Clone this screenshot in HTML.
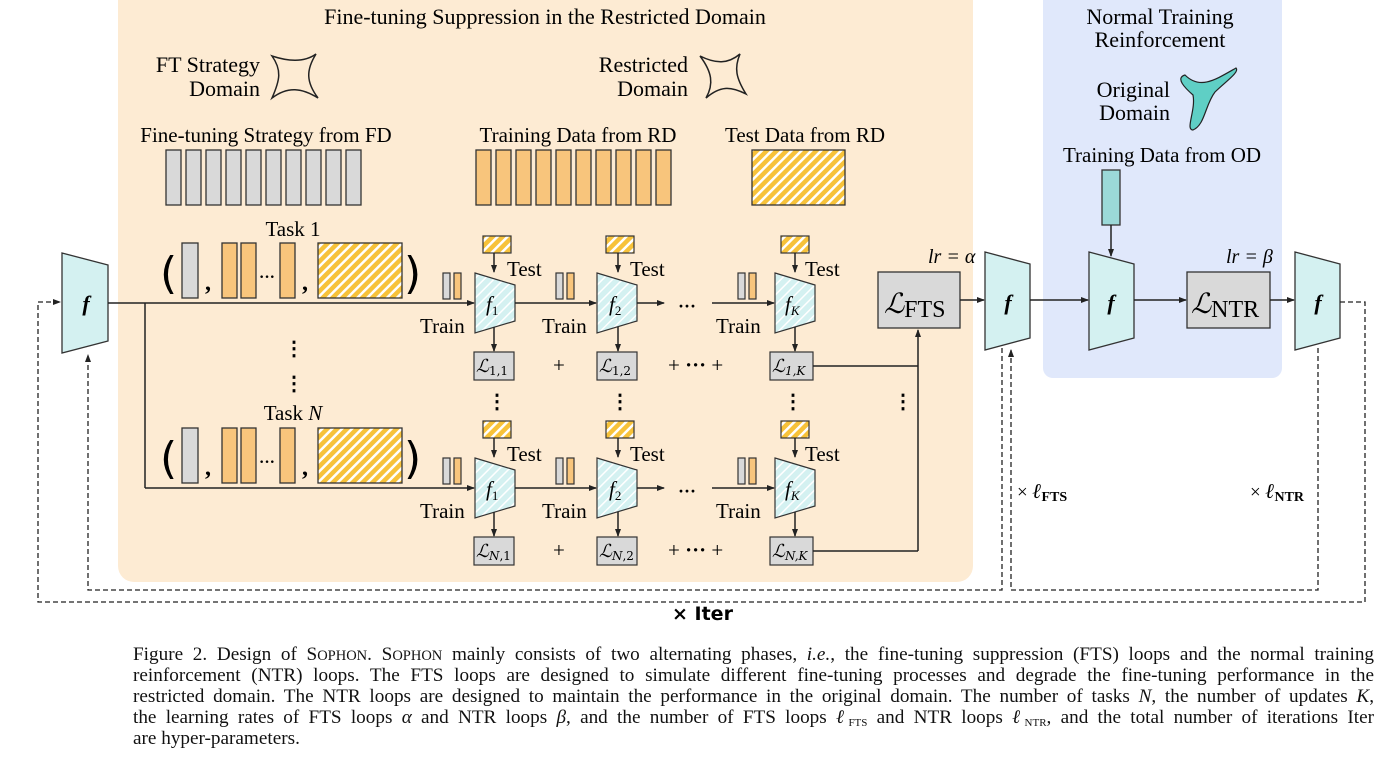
<!DOCTYPE html>
<html><head><meta charset="utf-8"><style>
body{margin:0;background:#fff;width:1380px;height:761px;overflow:hidden}
.cap{position:absolute;left:133px;width:1241px;top:644px;font-family:"Liberation Serif",serif;font-size:19.2px;line-height:21px;color:#111}
.cap div{text-align:justify;text-align-last:justify;white-space:nowrap;height:21px}
.cap div.l{text-align-last:left}
.cap sub{font-size:11px;line-height:0;vertical-align:-3px}
</style></head><body>
<svg width="1380" height="640" style="position:absolute;left:0;top:0" font-family="Liberation Serif, serif">
<defs>
<pattern id="h" width="7" height="7" patternUnits="userSpaceOnUse" patternTransform="rotate(45)"><rect width="7" height="7" fill="#f7c23a"/><rect width="2.5" height="7" fill="#fff"/></pattern>
<pattern id="c" width="7" height="7" patternUnits="userSpaceOnUse" patternTransform="rotate(45)"><rect width="7" height="7" fill="#d4f1f1"/><rect width="1.5" height="7" fill="#fff"/></pattern>
<marker id="a" markerWidth="8" markerHeight="8" refX="7" refY="4" orient="auto" markerUnits="userSpaceOnUse"><path d="M0,1 L8,4 L0,7z" fill="#222"/></marker>
</defs>
<rect x="118" y="-15" width="855" height="597" rx="16" fill="#fdebd3"/>
<rect x="1043" y="-15" width="239" height="393" rx="10" fill="#e0e8fb"/>
<text x="545" y="24" font-size="22" text-anchor="middle">Fine-tuning Suppression in the Restricted Domain</text>
<text x="260" y="72" font-size="22" text-anchor="end">FT Strategy</text>
<text x="260" y="96" font-size="22" text-anchor="end">Domain</text>
<path d="M272,98 C280,80 282,70 272,56 C290,62 305,62 316,54 C306,70 306,82 318,98 C302,88 288,86 272,98z" fill="none" stroke="#222" stroke-width="1.5"/>
<text x="688" y="72" font-size="22" text-anchor="end">Restricted</text>
<text x="688" y="96" font-size="22" text-anchor="end">Domain</text>
<path d="M700,56 C716,64 728,64 740,54 C734,68 736,78 746,94 C730,86 720,86 706,98 C714,84 712,72 700,56z" fill="none" stroke="#222" stroke-width="1.5"/>
<text x="1160" y="24" font-size="22" text-anchor="middle">Normal Training</text>
<text x="1160" y="47" font-size="22" text-anchor="middle">Reinforcement</text>
<text x="1170" y="97" font-size="22" text-anchor="end">Original</text>
<text x="1170" y="120" font-size="22" text-anchor="end">Domain</text>
<path d="M1185,75 C1200,90 1215,80 1236,68 C1240,72 1225,82 1215,92 C1205,105 1205,125 1193,130 C1185,130 1196,110 1193,95 C1185,88 1175,78 1185,75z" fill="#5fcfc5" stroke="#222" stroke-width="1.2"/>
<text x="1162" y="162" font-size="21" text-anchor="middle">Training Data from OD</text>
<text x="266" y="142" font-size="21" text-anchor="middle">Fine-tuning Strategy from FD</text>
<text x="578" y="142" font-size="21" text-anchor="middle">Training Data from RD</text>
<text x="805" y="142" font-size="21" text-anchor="middle">Test Data from RD</text>
<g stroke="#333" stroke-width="1.3">
<g fill="#d9d9d9">
<rect x="166" y="150" width="15" height="55"/><rect x="186" y="150" width="15" height="55"/><rect x="206" y="150" width="15" height="55"/><rect x="226" y="150" width="15" height="55"/><rect x="246" y="150" width="15" height="55"/><rect x="266" y="150" width="15" height="55"/><rect x="286" y="150" width="15" height="55"/><rect x="306" y="150" width="15" height="55"/><rect x="326" y="150" width="15" height="55"/><rect x="346" y="150" width="15" height="55"/>
</g>
<g fill="#f8c57c">
<rect x="476" y="150" width="15" height="55"/><rect x="496" y="150" width="15" height="55"/><rect x="516" y="150" width="15" height="55"/><rect x="536" y="150" width="15" height="55"/><rect x="556" y="150" width="15" height="55"/><rect x="576" y="150" width="15" height="55"/><rect x="596" y="150" width="15" height="55"/><rect x="616" y="150" width="15" height="55"/><rect x="636" y="150" width="15" height="55"/><rect x="656" y="150" width="15" height="55"/>
</g>
<rect x="752" y="150" width="93" height="55" fill="url(#h)"/>
<rect x="1102" y="170" width="18" height="55" fill="#9bd9d8"/>
</g>
<g id="row">
<text x="293" y="236" font-size="21" text-anchor="middle">Task 1</text>
<text x="160" y="288" font-size="44" font-family="DejaVu Sans, sans-serif">(</text>
<text x="404" y="288" font-size="44" font-family="DejaVu Sans, sans-serif">)</text>
<g stroke="#333" stroke-width="1.3">
<rect x="182" y="243" width="16" height="55" fill="#d9d9d9"/>
<rect x="222" y="243" width="15" height="55" fill="#f8c57c"/><rect x="241" y="243" width="15" height="55" fill="#f8c57c"/><rect x="280" y="243" width="15" height="55" fill="#f8c57c"/>
<rect x="318" y="243" width="84" height="55" fill="url(#h)"/>
</g>
<text x="205" y="290" font-size="24" font-weight="bold">,</text>
<text x="302" y="290" font-size="24" font-weight="bold">,</text>
<text x="259" y="282" font-size="16" font-weight="bold">···</text>
<line x1="145" y1="303" x2="474" y2="303" stroke="#222" stroke-width="1.5" marker-end="url(#a)"/>
<g stroke="#333" stroke-width="1.2">
<rect x="443" y="273" width="7" height="26" fill="#d9d9d9"/><rect x="454" y="273" width="7" height="26" fill="#f8c57c"/>
<rect x="556" y="273" width="7" height="26" fill="#d9d9d9"/><rect x="567" y="273" width="7" height="26" fill="#f8c57c"/>
<rect x="738" y="273" width="7" height="26" fill="#d9d9d9"/><rect x="749" y="273" width="7" height="26" fill="#f8c57c"/>
<rect x="483" y="236" width="28" height="17" fill="url(#h)"/><rect x="606" y="236" width="28" height="17" fill="url(#h)"/><rect x="781" y="236" width="28" height="17" fill="url(#h)"/>
<path d="M475,273 L515,285 L515,321 L475,333z" fill="url(#c)"/>
<path d="M597,273 L637,285 L637,321 L597,333z" fill="url(#c)"/>
<path d="M775,273 L815,285 L815,321 L775,333z" fill="url(#c)"/>
<rect x="474" y="352" width="40" height="28" fill="#d9d9d9"/>
<rect x="597" y="352" width="40" height="28" fill="#d9d9d9"/>
<rect x="770" y="352" width="43" height="28" fill="#d9d9d9"/>
</g>
<g stroke="#222" stroke-width="1.5" fill="none">
<line x1="494" y1="253" x2="494" y2="272" marker-end="url(#a)"/><line x1="618" y1="253" x2="618" y2="272" marker-end="url(#a)"/><line x1="795" y1="253" x2="795" y2="272" marker-end="url(#a)"/>
<line x1="494" y1="327" x2="494" y2="351" marker-end="url(#a)"/><line x1="618" y1="327" x2="618" y2="351" marker-end="url(#a)"/><line x1="795" y1="327" x2="795" y2="351" marker-end="url(#a)"/>
<line x1="515" y1="303" x2="596" y2="303" marker-end="url(#a)"/>
<line x1="637" y1="303" x2="664" y2="303" marker-end="url(#a)"/>
<line x1="712" y1="303" x2="774" y2="303" marker-end="url(#a)"/>
<line x1="813" y1="366" x2="918" y2="366"/>
</g>
<g font-size="21">
<text x="507" y="276">Test</text><text x="630" y="276">Test</text><text x="805" y="276">Test</text>
<text x="420" y="333">Train</text><text x="542" y="333">Train</text><text x="716" y="333">Train</text>
<text x="678" y="312" font-size="18" font-weight="bold">···</text>
<text x="553" y="372">+</text><text x="668" y="372">+ <tspan font-weight="bold">···</tspan> +</text>
</g>
<g font-style="italic" font-size="21">
<text x="486" y="311">f<tspan font-size="13" dy="4" font-style="normal">1</tspan></text>
<text x="609" y="311">f<tspan font-size="13" dy="4" font-style="normal">2</tspan></text>
<text x="785" y="311">f<tspan font-size="13" dy="4">K</tspan></text>
</g>
<g font-size="18" font-style="italic" font-family="DejaVu Serif, serif">
<text x="476" y="372">ℒ<tspan font-size="12" dy="3" font-style="normal">1,1</tspan></text>
<text x="599" y="372">ℒ<tspan font-size="12" dy="3" font-style="normal">1,2</tspan></text>
<text x="772" y="372">ℒ<tspan font-size="12" dy="3">1,K</tspan></text>
</g>
</g>
<use href="#row" transform="translate(0,185)"/>
<rect x="250" y="396" width="90" height="31" fill="#fdebd3"/>
<text x="293" y="420" font-size="21" text-anchor="middle">Task <tspan font-style="italic">N</tspan></text>
<g font-size="18" font-style="italic" font-family="DejaVu Serif, serif">
<rect x="475" y="538" width="38" height="26" fill="#d9d9d9"/><rect x="598" y="538" width="38" height="26" fill="#d9d9d9"/><rect x="771" y="538" width="41" height="26" fill="#d9d9d9"/>
<text x="476" y="557">ℒ<tspan font-size="12" dy="3">N</tspan><tspan font-size="12" font-style="normal">,1</tspan></text>
<text x="599" y="557">ℒ<tspan font-size="12" dy="3">N</tspan><tspan font-size="12" font-style="normal">,2</tspan></text>
<text x="772" y="557">ℒ<tspan font-size="12" dy="3">N,K</tspan></text>
</g>
<line x1="145" y1="303" x2="145" y2="488" stroke="#222" stroke-width="1.5"/>
<line x1="918" y1="551" x2="918" y2="330" stroke="#222" stroke-width="1.5" marker-end="url(#a)"/>
<g font-size="20" font-weight="bold" text-anchor="middle">
<text x="294" y="355">⋮</text><text x="294" y="390">⋮</text>
<text x="497" y="408">⋮</text><text x="620" y="408">⋮</text><text x="793" y="408">⋮</text><text x="903" y="408">⋮</text>
</g>
<g stroke="#333" stroke-width="1.3" fill="#d4f1f1">
<path d="M62,253 L108,265 L108,341 L62,353z"/>
<path d="M985,252 L1030,264 L1030,338 L985,350z"/>
<path d="M1089,252 L1134,264 L1134,338 L1089,350z"/>
<path d="M1295,252 L1340,264 L1340,338 L1295,350z"/>
<rect x="878" y="272" width="82" height="56" fill="#d9d9d9"/>
<rect x="1187" y="272" width="83" height="56" fill="#d9d9d9"/>
</g>
<g font-size="22" font-weight="bold" font-style="italic" text-anchor="middle">
<text x="86" y="311">f</text><text x="1008" y="310">f</text><text x="1111" y="310">f</text><text x="1318" y="310">f</text>
</g>
<text x="884" y="313" font-size="28" font-style="italic" font-family="DejaVu Serif, serif">ℒ<tspan font-size="24" font-style="normal" font-family="Liberation Serif, serif" dy="4">FTS</tspan></text>
<text x="1191" y="313" font-size="28" font-style="italic" font-family="DejaVu Serif, serif">ℒ<tspan font-size="24" font-style="normal" font-family="Liberation Serif, serif" dy="4">NTR</tspan></text>
<text x="928" y="263" font-size="20" font-style="italic">lr = α</text>
<text x="1226" y="263" font-size="20" font-style="italic">lr = β</text>
<g stroke="#222" stroke-width="1.5" fill="none">
<line x1="108" y1="303" x2="145" y2="303"/>
<line x1="960" y1="300" x2="984" y2="300" marker-end="url(#a)"/>
<line x1="1030" y1="300" x2="1088" y2="300" marker-end="url(#a)"/>
<line x1="1134" y1="300" x2="1186" y2="300" marker-end="url(#a)"/>
<line x1="1270" y1="300" x2="1294" y2="300" marker-end="url(#a)"/>
<line x1="1111" y1="225" x2="1111" y2="256" marker-end="url(#a)"/>
</g>
<g stroke="#222" stroke-width="1.3" fill="none" stroke-dasharray="5,3">
<path d="M1340,302 L1365,302 L1365,602 L38,602 L38,302 L60,302" marker-end="url(#a)"/>
<path d="M1002,348 L1002,590 L88,590 L88,355" marker-end="url(#a)"/>
<path d="M1318,348 L1318,590 L1011,590 L1011,350" marker-end="url(#a)"/>
</g>
<text x="1017" y="498" font-size="19"><tspan>× </tspan><tspan font-weight="bold" font-style="italic" font-size="21">ℓ</tspan><tspan font-weight="bold" font-size="14" dy="3">FTS</tspan></text>
<text x="1250" y="498" font-size="19"><tspan>× </tspan><tspan font-weight="bold" font-style="italic" font-size="21">ℓ</tspan><tspan font-weight="bold" font-size="14" dy="3">NTR</tspan></text>
<text x="672" y="620" font-size="19" font-family="DejaVu Sans, sans-serif" font-weight="bold">× Iter</text>
</svg>
<div class="cap">
<div>Figure 2. Design of S<span style="font-size:14.5px">OPHON</span>. S<span style="font-size:14.5px">OPHON</span> mainly consists of two alternating phases, <i>i.e.</i>, the fine-tuning suppression (FTS) loops and the normal training</div>
<div>reinforcement (NTR) loops. The FTS loops are designed to simulate different fine-tuning processes and degrade the fine-tuning performance in the</div>
<div>restricted domain. The NTR loops are designed to maintain the performance in the original domain. The number of tasks <i>N</i>, the number of updates <i>K</i>,</div>
<div>the learning rates of FTS loops <i>α</i> and NTR loops <i>β</i>, and the number of FTS loops <i>ℓ</i><sub>FTS</sub> and NTR loops <i>ℓ</i><sub>NTR</sub>, and the total number of iterations Iter</div>
<div class="l">are hyper-parameters.</div>
</div>
</body></html>
